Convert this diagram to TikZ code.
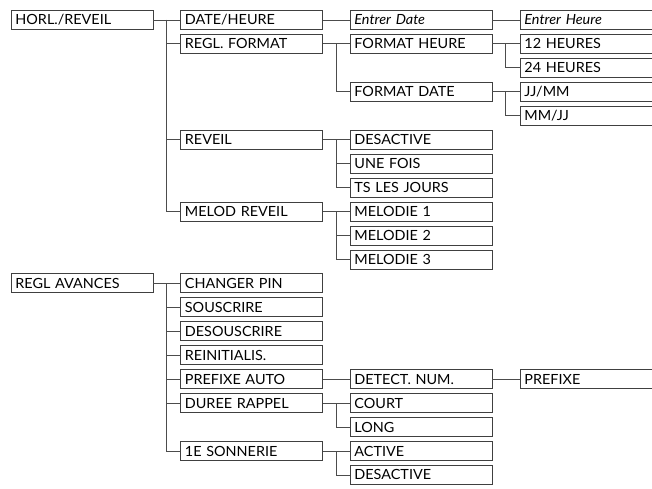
\documentclass[tikz,border=0pt]{standalone}
\usepackage{fontspec}
\setmainfont{Lato}[FakeStretch=1.03]
\tikzset{
  box/.style={draw=black!75, line width=0.8pt, rectangle, anchor=north west,
    minimum height=19pt, text width=133pt, inner xsep=4.5pt, inner ysep=0pt,
    align=left, text height=10pt, text depth=0pt, font=\fontsize{14}{15}\selectfont},
  lastbox/.style={box, text width=123pt},
  ital/.style={font=\fontsize{14}{15}\selectfont\itshape},
  link/.style={draw=black!70, line width=0.8pt}
}
\newcommand\branch[2]{%
  \draw[link] (#1.east) -- ++(13.5,0) coordinate (b#1);
  \foreach \c in {#2} {\draw[link] (b#1) |- (\c.west);}%
}
\begin{document}
\begin{tikzpicture}[x=1pt,y=-1pt]
\useasboundingbox (0,0) rectangle (652,488);
% column 1
\node[box] (h1) at (10.5,10) {HORL./REVEIL};
\node[box] (ra) at (10.5,273.45) {REGL AVANCES};
% column 2
\node[box] (dh) at (180,10) {DATE/HEURE};
\node[box] (rf) at (180,33.95) {REGL. FORMAT};
\node[box] (rv) at (180,129.75) {REVEIL};
\node[box] (mr) at (180,201.6) {MELOD REVEIL};
\node[box] (cp) at (180,273.45) {CHANGER PIN};
\node[box] (so) at (180,297.4) {SOUSCRIRE};
\node[box] (de) at (180,321.35) {DESOUSCRIRE};
\node[box] (re) at (180,345.3) {REINITIALIS.};
\node[box] (pa) at (180,369.25) {PREFIXE AUTO};
\node[box] (dr) at (180,393.2) {DUREE RAPPEL};
\node[box] (sn) at (180,441.1) {1E SONNERIE};
% column 3
\node[box,ital] (ed) at (349.5,10) {Entrer Date};
\node[box] (fh) at (349.5,33.95) {FORMAT HEURE};
\node[box] (fd) at (349.5,81.85) {FORMAT DATE};
\node[box] (da) at (349.5,129.75) {DESACTIVE};
\node[box] (uf) at (349.5,153.7) {UNE FOIS};
\node[box] (tj) at (349.5,177.65) {TS LES JOURS};
\node[box] (ma) at (349.5,201.6) {MELODIE 1};
\node[box] (mb) at (349.5,225.55) {MELODIE 2};
\node[box] (mc) at (349.5,249.5) {MELODIE 3};
\node[box] (dn) at (349.5,369.25) {DETECT. NUM.};
\node[box] (co) at (349.5,393.2) {COURT};
\node[box] (lo) at (349.5,417.15) {LONG};
\node[box] (ac) at (349.5,441.1) {ACTIVE};
\node[box] (db) at (349.5,465.05) {DESACTIVE};
% column 4
\node[lastbox,ital] (eh) at (519.5,10) {Entrer Heure};
\node[lastbox] (ha) at (519.5,33.95) {12 HEURES};
\node[lastbox] (hb) at (519.5,57.9) {24 HEURES};
\node[lastbox] (jm) at (519.5,81.85) {JJ/MM};
\node[lastbox] (mj) at (519.5,105.8) {MM/JJ};
\node[lastbox] (px) at (519.5,369.25) {PREFIXE};
% connectors
\branch{h1}{dh,rf,rv,mr}
\branch{dh}{ed}
\branch{ed}{eh}
\branch{rf}{fh,fd}
\branch{fh}{ha,hb}
\branch{fd}{jm,mj}
\branch{rv}{da,uf,tj}
\branch{mr}{ma,mb,mc}
\branch{ra}{cp,so,de,re,pa,dr,sn}
\branch{pa}{dn}
\branch{dn}{px}
\branch{dr}{co,lo}
\branch{sn}{ac,db}
\end{tikzpicture}
\end{document}
